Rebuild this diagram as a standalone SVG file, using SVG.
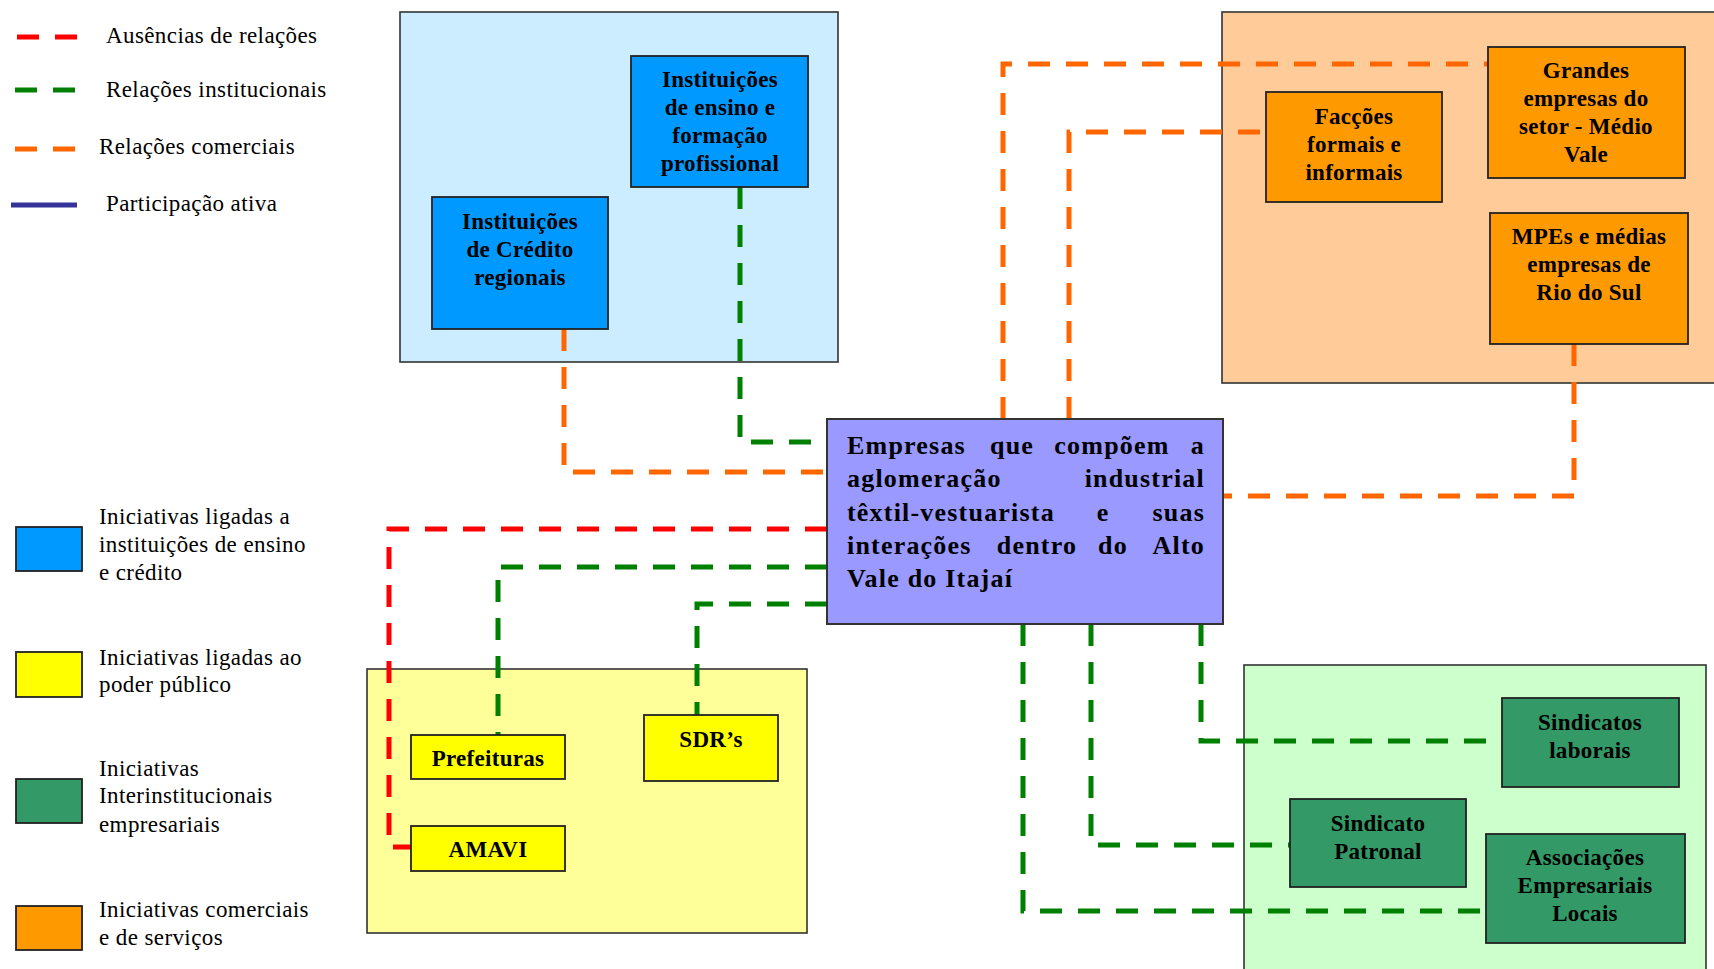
<svg xmlns="http://www.w3.org/2000/svg" width="1714" height="969" viewBox="0 0 1714 969">
<style>
.cont{stroke:#333;stroke-width:1.6}
.box{stroke:#222;stroke-width:1.8}
.nt{font-family:"Liberation Serif","Times New Roman",serif;font-weight:bold;font-size:23px;letter-spacing:0.3px;fill:#000;text-anchor:middle}
.ct{font-family:"Liberation Serif","Times New Roman",serif;font-weight:bold;font-size:26px;letter-spacing:1.2px;fill:#000}
.lt{font-family:"Liberation Serif","Times New Roman",serif;font-size:23px;letter-spacing:0.4px;fill:#000}
.dash{fill:none;stroke-width:5;stroke-dasharray:22 16}
.red{stroke:#FF0000}
.grn{stroke:#008000}
.org{stroke:#FF6600}
</style>
<rect x="0" y="0" width="1714" height="969" fill="#FFFFFF"/>

<g id="legend">
  <line x1="17" y1="37" x2="77" y2="37" class="dash red" stroke-dasharray="21 17"/>
  <line x1="15" y1="90" x2="75" y2="90" class="dash grn" stroke-dasharray="21 17"/>
  <line x1="15" y1="149" x2="75" y2="149" class="dash org" stroke-dasharray="21 17"/>
  <line x1="11" y1="205" x2="77" y2="205" stroke="#333399" stroke-width="5"/>
  <text class="lt" x="106" y="43">Ausências de relações</text>
  <text class="lt" x="106" y="97">Relações institucionais</text>
  <text class="lt" x="99" y="154">Relações comerciais</text>
  <text class="lt" x="106" y="211">Participação ativa</text>

  <rect x="16" y="527" width="66" height="44" fill="#0099FF" class="box"/>
  <text class="lt" x="99" y="524">Iniciativas ligadas a</text>
  <text class="lt" x="99" y="552">instituições de ensino</text>
  <text class="lt" x="99" y="580">e crédito</text>

  <rect x="16" y="652" width="66" height="45" fill="#FFFF00" class="box"/>
  <text class="lt" x="99" y="665">Iniciativas ligadas ao</text>
  <text class="lt" x="99" y="692">poder público</text>

  <rect x="16" y="779" width="66" height="44" fill="#339966" class="box"/>
  <text class="lt" x="99" y="776">Iniciativas</text>
  <text class="lt" x="99" y="803">Interinstitucionais</text>
  <text class="lt" x="99" y="832">empresariais</text>

  <rect x="16" y="906" width="66" height="44" fill="#FF9900" class="box"/>
  <text class="lt" x="99" y="917">Iniciativas comerciais</text>
  <text class="lt" x="99" y="945">e de serviços</text>
</g>

<g id="containers">
  <rect id="grupo-ensino" x="400" y="12" width="438" height="350" fill="#CCECFF" class="cont"/>
  <rect id="grupo-comercial" x="1222" y="12" width="500" height="371" fill="#FFCC99" class="cont"/>
  <rect id="grupo-publico" x="367" y="669" width="440" height="264" fill="#FFFF99" class="cont"/>
  <rect id="grupo-interinst" x="1244" y="665" width="462" height="310" fill="#CCFFCC" class="cont"/>
</g>

<g id="connectors">
  <path class="dash red" d="M827 529 H389 V847 H411"/>
  <path class="dash grn" d="M740 187 V442 H827"/>
  <path class="dash org" d="M564 329 V472 H827"/>
  <path class="dash grn" d="M827 567 H498 V735"/>
  <path class="dash grn" d="M827 604 H697 V715"/>
  <path class="dash org" d="M1003 419 V64 H1488"/>
  <path class="dash org" d="M1069 419 V132 H1266"/>
  <path class="dash org" d="M1574 344 V496 H1223"/>
  <path class="dash grn" d="M1201 624 V741 H1502"/>
  <path class="dash grn" d="M1091 624 V845 H1290"/>
  <path class="dash grn" d="M1023 624 V911 H1486"/>
</g>

<g id="ensino">
  <rect x="631" y="56" width="177" height="131" fill="#0099FF" class="box"/>
  <text class="nt" x="720" y="87">Instituições</text>
  <text class="nt" x="720" y="115">de ensino e</text>
  <text class="nt" x="720" y="143">formação</text>
  <text class="nt" x="720" y="171">profissional</text>
</g>

<g id="credito">
  <rect x="432" y="197" width="176" height="132" fill="#0099FF" class="box"/>
  <text class="nt" x="520" y="229">Instituições</text>
  <text class="nt" x="520" y="257">de Crédito</text>
  <text class="nt" x="520" y="285">regionais</text>
</g>

<g id="grandes">
  <rect x="1488" y="47" width="197" height="131" fill="#FF9900" class="box"/>
  <text class="nt" x="1586" y="78">Grandes</text>
  <text class="nt" x="1586" y="106">empresas do</text>
  <text class="nt" x="1586" y="134">setor - Médio</text>
  <text class="nt" x="1586" y="162">Vale</text>
</g>

<g id="faccoes">
  <rect x="1266" y="92" width="176" height="110" fill="#FF9900" class="box"/>
  <text class="nt" x="1354" y="124">Facções</text>
  <text class="nt" x="1354" y="152">formais e</text>
  <text class="nt" x="1354" y="180">informais</text>
</g>

<g id="mpes">
  <rect x="1490" y="213" width="198" height="131" fill="#FF9900" class="box"/>
  <text class="nt" x="1589" y="244">MPEs e médias</text>
  <text class="nt" x="1589" y="272">empresas de</text>
  <text class="nt" x="1589" y="300">Rio do Sul</text>
</g>

<g id="empresas">
  <rect x="827" y="419" width="396" height="205" fill="#9999FF" stroke="#333" stroke-width="2"/>
  <text class="ct" x="847" y="454">Empresas</text>
  <text class="ct" x="1012" y="454" text-anchor="middle">que</text>
  <text class="ct" x="1112" y="454" text-anchor="middle">compõem</text>
  <text class="ct" x="1205" y="454" text-anchor="end" letter-spacing="0">a</text>
  <text class="ct" x="847" y="487">aglomeração</text>
  <text class="ct" x="1205" y="487" text-anchor="end" letter-spacing="0">industrial</text>
  <text class="ct" x="847" y="521">têxtil-vestuarista</text>
  <text class="ct" x="1103" y="521" text-anchor="middle">e</text>
  <text class="ct" x="1205" y="521" text-anchor="end" letter-spacing="0">suas</text>
  <text class="ct" x="847" y="554">interações</text>
  <text class="ct" x="1037" y="554" text-anchor="middle">dentro</text>
  <text class="ct" x="1113" y="554" text-anchor="middle">do</text>
  <text class="ct" x="1205" y="554" text-anchor="end" letter-spacing="0">Alto</text>
  <text class="ct" x="847" y="587">Vale do Itajaí</text>
</g>

<g id="prefeituras">
  <rect x="411" y="735" width="154" height="44" fill="#FFFF00" class="box"/>
  <text class="nt" x="488" y="766">Prefeituras</text>
</g>

<g id="amavi">
  <rect x="411" y="826" width="154" height="45" fill="#FFFF00" class="box"/>
  <text class="nt" x="488" y="857">AMAVI</text>
</g>

<g id="sdrs">
  <rect x="644" y="715" width="134" height="66" fill="#FFFF00" class="box"/>
  <text class="nt" x="711" y="747">SDR’s</text>
</g>

<g id="sindicatos-laborais">
  <rect x="1502" y="698" width="177" height="89" fill="#339966" class="box"/>
  <text class="nt" x="1590" y="730">Sindicatos</text>
  <text class="nt" x="1590" y="758">laborais</text>
</g>

<g id="sindicato-patronal">
  <rect x="1290" y="799" width="176" height="88" fill="#339966" class="box"/>
  <text class="nt" x="1378" y="831">Sindicato</text>
  <text class="nt" x="1378" y="859">Patronal</text>
</g>

<g id="associacoes">
  <rect x="1486" y="834" width="199" height="109" fill="#339966" class="box"/>
  <text class="nt" x="1585" y="865">Associações</text>
  <text class="nt" x="1585" y="893">Empresariais</text>
  <text class="nt" x="1585" y="921">Locais</text>
</g>
</svg>
